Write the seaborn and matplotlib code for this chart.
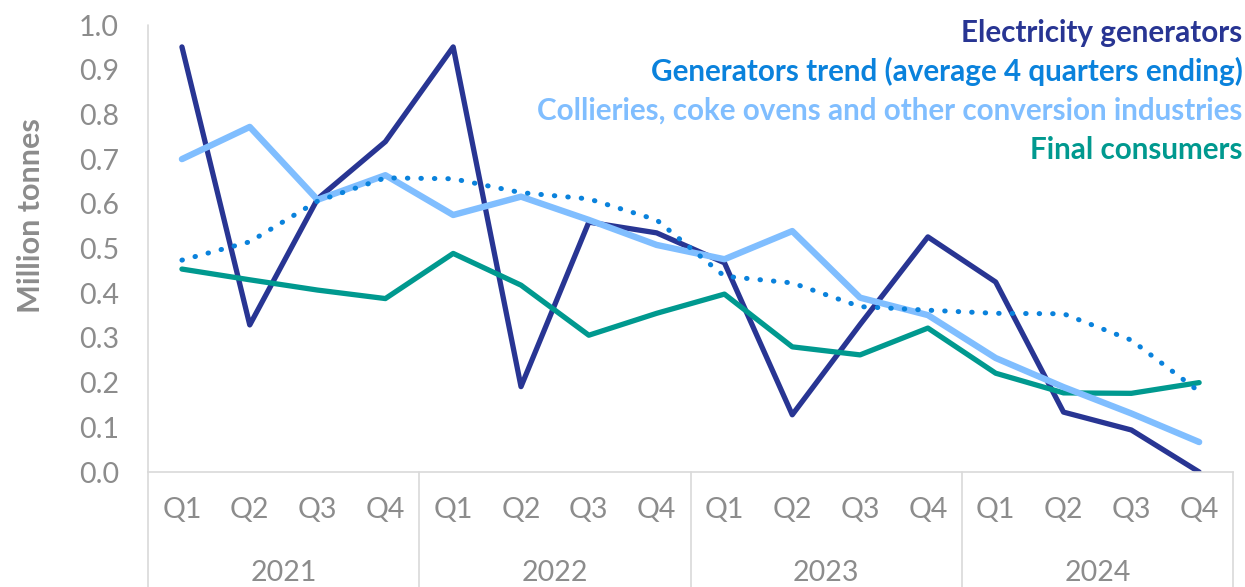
import numpy as np
import pandas as pd
import matplotlib
matplotlib.use("Agg")
import matplotlib.pyplot as plt
import matplotlib.transforms as mtransforms
import seaborn as sns

sns.set_theme(style="white")
plt.rcParams['font.family'] = ['Lato', 'DejaVu Sans']

# --- datos ---
years = ['2021', '2022', '2023', '2024']
quarters = ['Q1', 'Q2', 'Q3', 'Q4']

electricity = [0.951, 0.329, 0.611, 0.739,
               0.951, 0.191, 0.559, 0.535,
               0.468, 0.128, 0.330, 0.526,
               0.425, 0.134, 0.094, 0.000]
trend = [0.474, 0.515, 0.606, 0.658,
         0.656, 0.625, 0.611, 0.564,
         0.438, 0.423, 0.370, 0.362,
         0.355, 0.354, 0.295, 0.180]
collieries = [0.700, 0.772, 0.609, 0.664,
              0.575, 0.616, 0.564, 0.508,
              0.476, 0.539, 0.390, 0.351,
              0.255, 0.190, 0.131, 0.067]
final_consumers = [0.454, 0.430, 0.407, 0.388,
                   0.489, 0.418, 0.306, 0.355,
                   0.398, 0.280, 0.262, 0.322,
                   0.221, 0.177, 0.176, 0.200]

labels = ['Electricity generators',
          'Generators trend (average 4 quarters ending)',
          'Collieries, coke ovens and other conversion industries',
          'Final consumers']
colors = ['#283593', '#0A82DC', '#80BEFF', '#00998F']

idx = np.arange(len(years) * len(quarters))
df = pd.DataFrame({'pos': idx, 'elec': electricity, 'trend': trend,
                   'coll': collieries, 'final': final_consumers})

fig = plt.figure(figsize=(12.45, 5.87), dpi=100)
ax = fig.add_axes([0.1189, 0.1959, 0.8715, 0.7615])

sns.lineplot(data=df, x='pos', y='elec', ax=ax, color=colors[0], linewidth=3.8,
             solid_capstyle='round', zorder=2)
sns.lineplot(data=df, x='pos', y='final', ax=ax, color=colors[3], linewidth=3.8,
             solid_capstyle='round', zorder=3)
sns.lineplot(data=df, x='pos', y='coll', ax=ax, color=colors[2], linewidth=4.6,
             solid_capstyle='round', zorder=4)
sns.lineplot(data=df, x='pos', y='trend', ax=ax, color=colors[1], linewidth=3.6,
             linestyle=(0, (0.1, 2.6)), dash_capstyle='round', zorder=5)

ax.set_xlim(-0.5, len(idx) - 0.5)
ax.set_ylim(0, 1.0)
ax.set_yticks(np.arange(0, 1.01, 0.1))
ax.set_yticklabels([f"{v:.1f}" for v in np.arange(0, 1.01, 0.1)])
ax.set_xticks(idx)
ax.set_xticklabels(quarters * len(years))
ax.tick_params(axis='both', length=0, labelsize=20.5, colors='#8C8C8C')
ax.tick_params(axis='y', pad=21)
ax.tick_params(axis='x', pad=18)
ax.set_xlabel('')
ax.set_ylabel('Million tonnes', fontsize=22, fontweight='bold', color='#8C8C8C')
ax.yaxis.set_label_coords(-0.095, 0.573)

for s in ['top', 'right']:
    ax.spines[s].set_visible(False)
ax.spines['left'].set_visible(False)
ax.spines['bottom'].set_color('#D9D9D9')
ax.spines['bottom'].set_linewidth(1.2)

# separadores de años y etiquetas del eje de categorías
trans = mtransforms.blended_transform_factory(ax.transData, ax.transAxes)
for i, yr in enumerate(years):
    start = i * len(quarters) - 0.5
    ax.plot([start, start], [1.0 if i == 0 else 0, -0.26], transform=trans,
            color='#D9D9D9', lw=1.2, clip_on=False, zorder=1)
    ax.text(start + len(quarters) / 2, -0.225, yr, transform=trans, ha='center',
            va='center', fontsize=20.5, color='#8C8C8C')
end = len(idx) - 0.5
ax.plot([end, end], [0, -0.26], transform=trans, color='#D9D9D9', lw=1.2, clip_on=False)

# leyenda como texto coloreado
for k, (lab, c) in enumerate(zip(labels, colors)):
    fig.text(0.998, 0.944 - k * 0.0665, lab, ha='right', va='center',
             fontsize=21.3, fontweight='bold', color=c)

fig.savefig('out.png', dpi=100)
